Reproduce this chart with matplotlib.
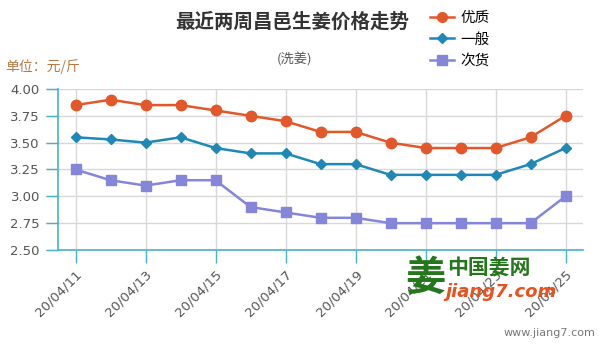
import matplotlib
matplotlib.use('Agg')
import matplotlib.pyplot as plt
from matplotlib.lines import Line2D

plt.rcParams['font.family'] = ['Noto Sans CJK SC', 'DejaVu Sans']

# Price data, yuan per jin, 2020-04-11 .. 2020-04-25
dates = ['20/04/11', '20/04/12', '20/04/13', '20/04/14', '20/04/15',
         '20/04/16', '20/04/17', '20/04/18', '20/04/19', '20/04/20',
         '20/04/21', '20/04/22', '20/04/23', '20/04/24', '20/04/25']
youzhi = [3.85, 3.90, 3.85, 3.85, 3.80, 3.75, 3.70, 3.60, 3.60, 3.50,
          3.45, 3.45, 3.45, 3.55, 3.75]
yiban = [3.55, 3.53, 3.50, 3.55, 3.45, 3.40, 3.40, 3.30, 3.30, 3.20,
         3.20, 3.20, 3.20, 3.30, 3.45]
cihuo = [3.25, 3.15, 3.10, 3.15, 3.15, 2.90, 2.85, 2.80, 2.80, 2.75,
         2.75, 2.75, 2.75, 2.75, 3.00]
series_names = ['优质', '一般', '次货']
y_ticks = [2.50, 2.75, 3.00, 3.25, 3.50, 3.75, 4.00]

c_you = '#e2582a'
c_yi = '#1f88b6'
c_ci = '#8585da'
c_axis = '#45b3cb'

fig = plt.figure(figsize=(6, 3.45), dpi=100)
ax = fig.add_axes([58 / 600, 1 - 250 / 345, 525 / 600, 161 / 345])

x = list(range(len(dates)))
ax.plot(x, youzhi, color=c_you, lw=1.8, marker='o', ms=7.5, zorder=5)
ax.plot(x, yiban, color=c_yi, lw=1.8, marker='D', ms=5.5, zorder=5)
ax.plot(x, cihuo, color=c_ci, lw=1.8, marker='s', ms=7.5, zorder=5)

ax.set_xlim(-0.5, len(dates) - 0.5)
ax.set_ylim(2.5, 4.0)
ax.set_yticks(y_ticks)
ax.set_yticklabels(['%.2f' % v for v in y_ticks], color='#555555', fontsize=9.5,
                   family='DejaVu Sans')
ax.set_xticks(x[::2])
ax.set_xticklabels(dates[::2], rotation=45, ha='right', rotation_mode='anchor',
                   color='#555555', fontsize=9.5, family='DejaVu Sans')

ax.tick_params(axis='y', length=9, width=1, color=c_axis, pad=4)
ax.tick_params(axis='x', length=9, width=1, color=c_axis, pad=4)

ax.grid(True, color='#d8d8d8', lw=1)
ax.set_axisbelow(True)
for s in ['top', 'right']:
    ax.spines[s].set_visible(False)
ax.spines['left'].set_color(c_axis)
ax.spines['bottom'].set_color(c_axis)
ax.spines['left'].set_linewidth(1.2)
ax.spines['bottom'].set_linewidth(1.2)

# horizontal gridlines reach out to the tick marks on the left
for v in y_ticks:
    ax.add_line(Line2D([-0.84, -0.5], [v, v], color='#d8d8d8', lw=1,
                       clip_on=False, zorder=0))

# titles
fig.text(292 / 600, 1 - 22 / 345, '最近两周昌邑生姜价格走势', ha='center',
         va='center', fontsize=14, fontweight='bold', color='#333333')
fig.text(295 / 600, 1 - 60 / 345, '(洗姜)', ha='center', va='center',
         fontsize=9.5, color='#555555')
fig.text(5 / 600, 1 - 67 / 345, '单位：元/斤', ha='left', va='center',
         fontsize=10, color='#b87a45')

# legend
handles = [Line2D([], [], color=c_you, lw=1.8, marker='o', ms=7),
           Line2D([], [], color=c_yi, lw=1.8, marker='D', ms=5),
           Line2D([], [], color=c_ci, lw=1.8, marker='s', ms=7)]
fig.legend(handles, series_names, loc='upper left',
           bbox_to_anchor=(420 / 600, 1 - 1 / 345), frameon=False,
           fontsize=10.5, handlelength=1.6, handletextpad=0.5,
           labelspacing=0.5, borderpad=0.2)

# site watermark
fig.text(425 / 600, 1 - 278 / 345, '姜', ha='center', va='center',
         fontsize=29, fontweight='bold', color='#25771c', zorder=10)
fig.text(447 / 600, 1 - 267 / 345, '中国姜网', ha='left', va='center',
         fontsize=15, fontweight='bold', color='#25771c', zorder=10)
fig.text(445 / 600, 1 - 292 / 345, 'jiang7.com', ha='left', va='center',
         fontsize=13, fontweight='bold', style='italic', color='#e8521e',
         family='DejaVu Sans', zorder=10)
fig.text(595 / 600, 1 - 333 / 345, 'www.jiang7.com', ha='right', va='center',
         fontsize=8, color='#777777', family='DejaVu Sans')

fig.savefig('out.png', dpi=100)
